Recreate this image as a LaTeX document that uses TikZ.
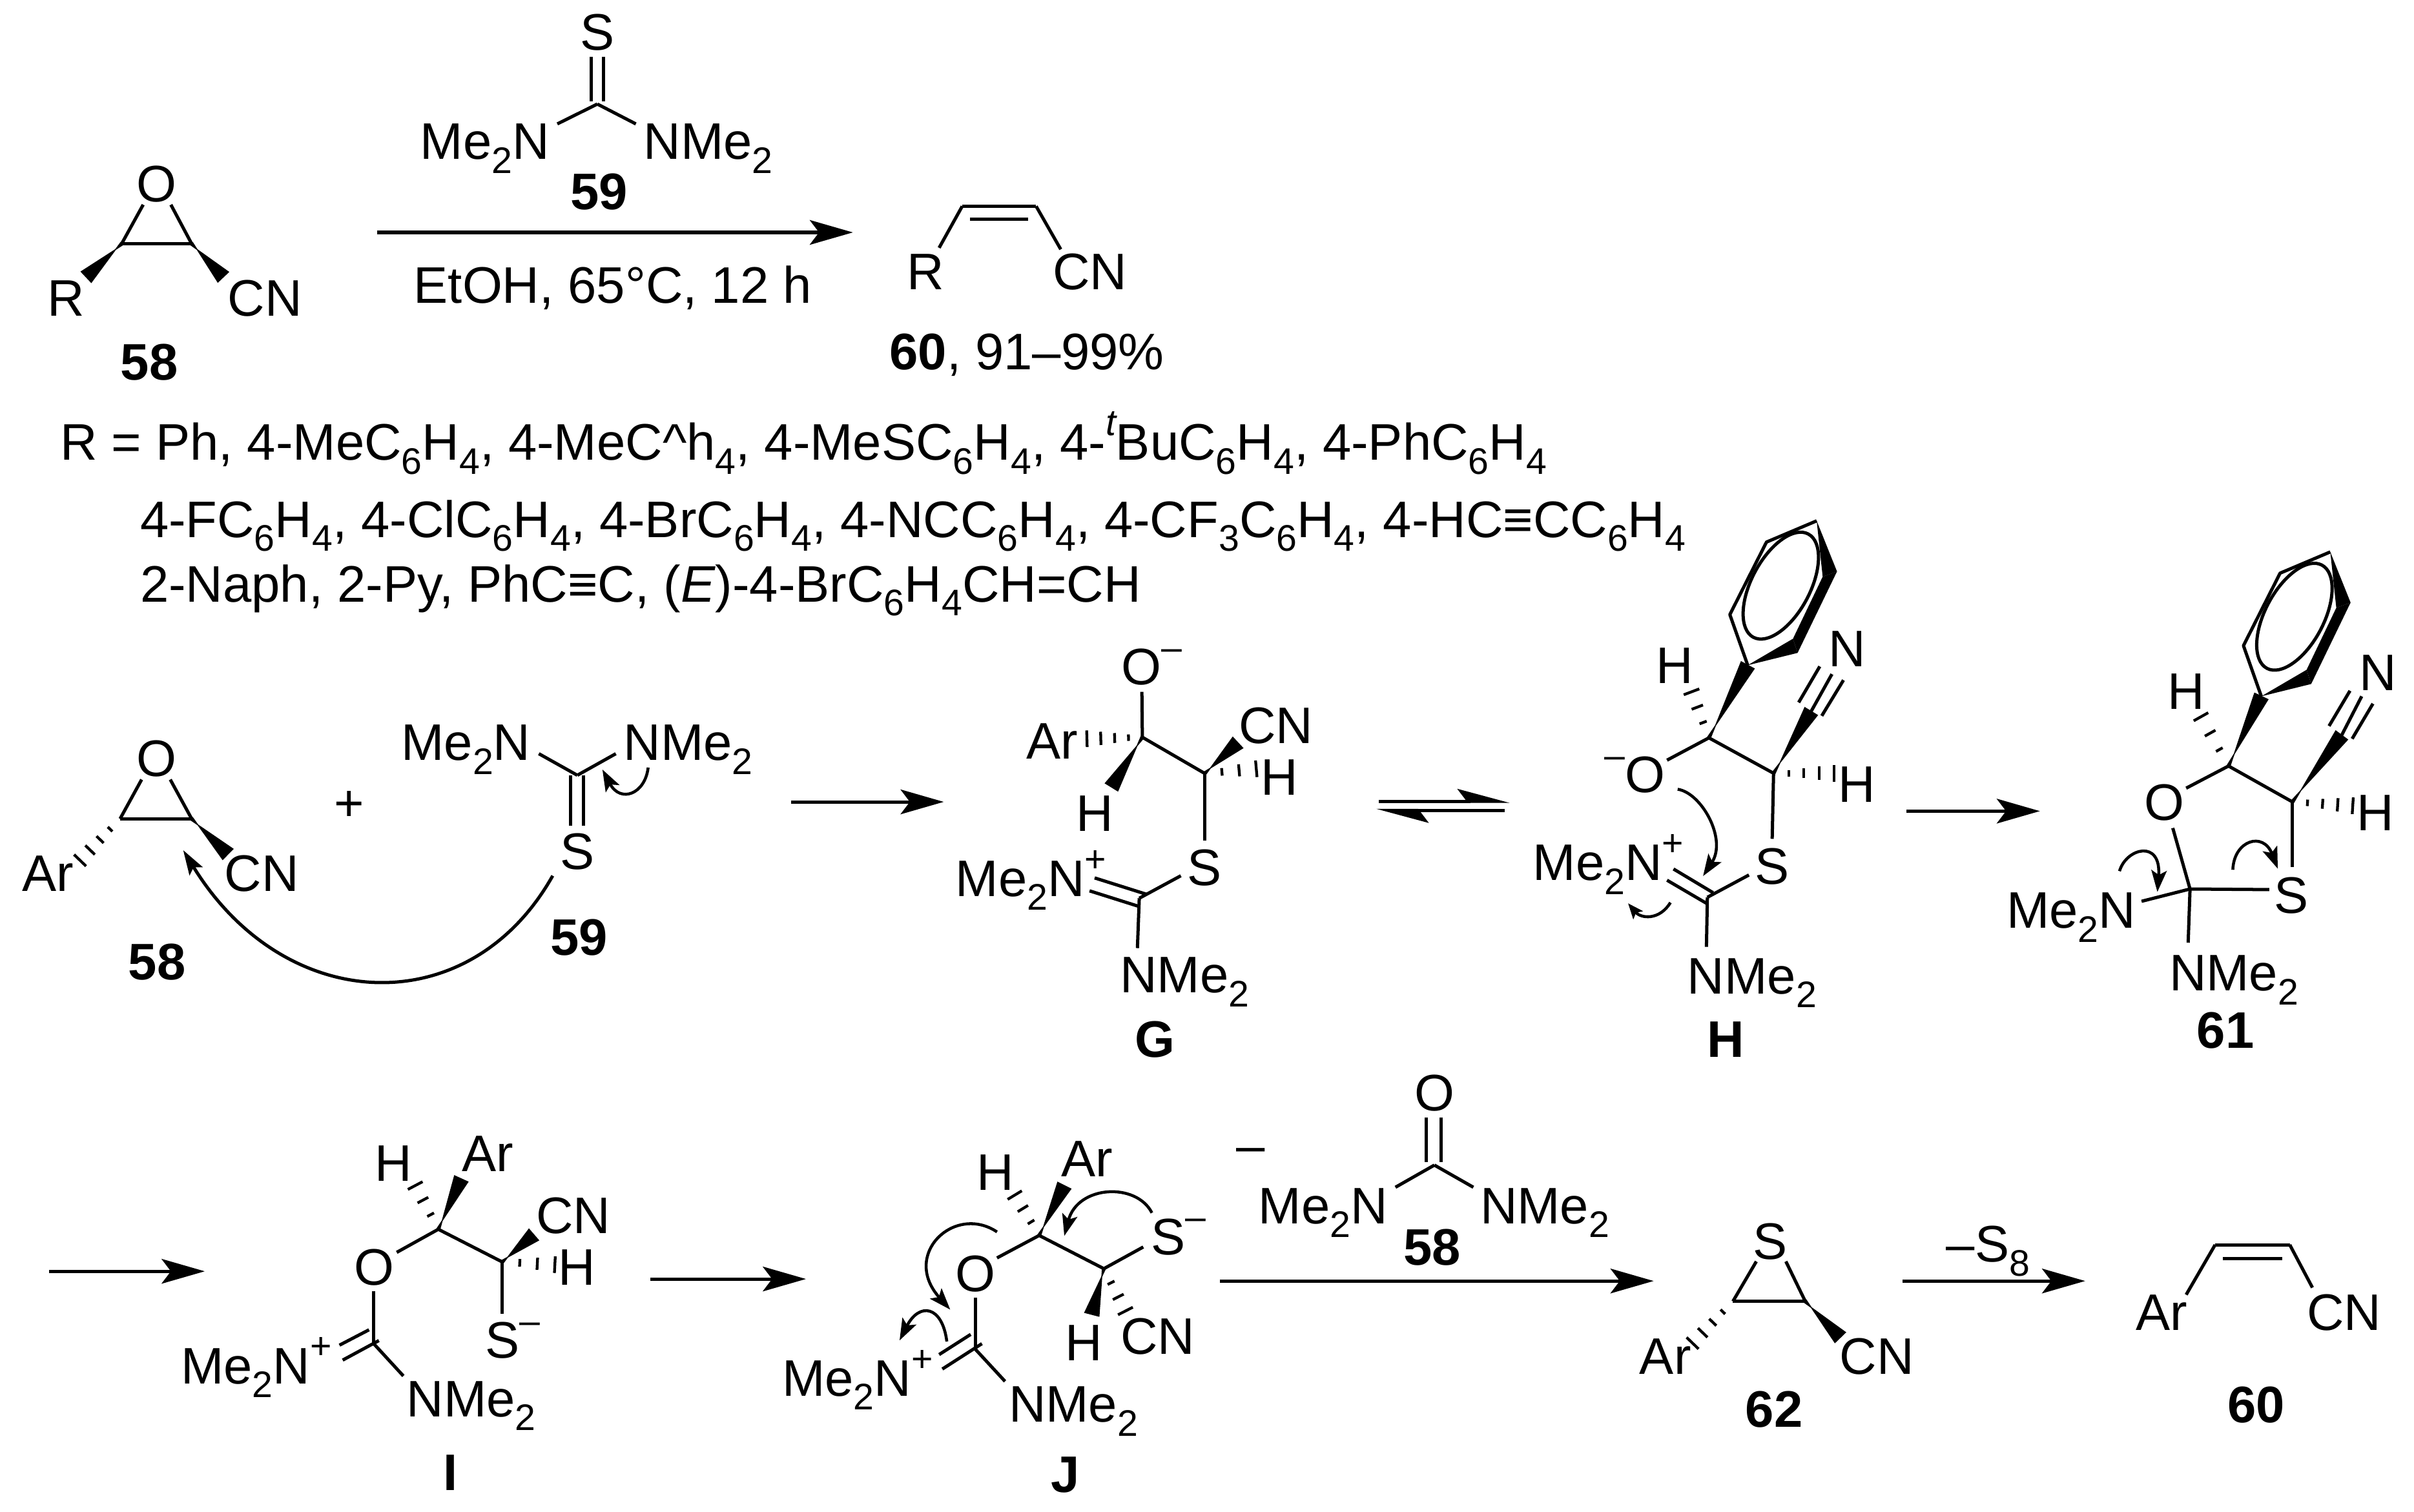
\documentclass[tikz,border=0pt]{standalone}
\usepackage{fontspec}
\setmainfont{Liberation Sans}
\usetikzlibrary{arrows.meta,calc}

\newcommand{\dn}[1]{\raisebox{-0.27em}{\fontsize{12}{12}\selectfont #1}}
\newcommand{\upc}[1]{\raisebox{0.48em}{\fontsize{12}{12}\selectfont #1}}
\newcommand{\wedgebond}[2]{\filldraw[line width=0.3pt] ($(#1)!0.5pt!90:(#2)$) -- ($(#2)!2.4pt!90:(#1)$) -- ($(#2)!2.4pt!-90:(#1)$) -- ($(#1)!0.5pt!-90:(#2)$) -- cycle;}
\newcommand{\hashbond}[3]{
    \foreach \k in {1,...,#3} {
        \pgfmathsetmacro{\hpos}{\k/#3}
        \pgfmathsetmacro{\hwid}{2.2*\k/#3+0.5}
        \draw[line width=0.9pt] ($($(#1)!\hpos!(#2)$)!\hwid pt!90:(#1)$) -- ($($(#1)!\hpos!(#2)$)!\hwid pt!-90:(#1)$);
    }
}
\newcommand{\benzring}{
    \coordinate (ph1) at (1135.2,432.2);
    \coordinate (ph2) at (1123.6,399.3);
    \coordinate (ph3) at (1147.4,352.2);
    \coordinate (ph4) at (1180,338.4);
    \coordinate (ph5) at (1193.2,371.3);
    \coordinate (ph6) at (1164.6,415);
    \coordinate (ph7) at (1167.6,424.2);
    \coordinate (ph8) at (1183.9,374.7);
    \coordinate (phc) at (1156.7,380.5);
    \draw[line join=round] (ph1) -- (ph2) -- (ph3) -- (ph4);
    \fill (ph1) -- (ph6) -- (ph7) -- cycle;
    \fill (ph6) -- (ph8) -- (ph5) -- (ph7) -- cycle;
    \fill (ph4) -- (ph8) -- (ph5) -- cycle;
    \draw[rotate around={62:(phc)}] (phc) ellipse [x radius=38,y radius=19];
}

\begin{document}
\begin{tikzpicture}[x=0.5pt,y=-0.5pt,line width=1.05pt,
    main node/.style={inner sep=0pt,text height=12pt,text depth=0pt,font=\fontsize{16.7}{19}\selectfont},
    bold node/.style={main node,font=\fontsize{16.7}{19}\selectfont\bfseries},
    line node/.style={main node,anchor=west},
    rxn/.style={-{Stealth[length=14pt,width=8pt,inset=3pt]}},
    half/.style={-{Stealth[length=15pt,width=8pt,inset=3pt,harpoon]}},
    curly/.style={-{Stealth[length=7pt,width=5pt,inset=1.5pt]},line width=0.95pt}]

    \useasboundingbox (0,0) rectangle (1568,982);

    % top reaction
    \node[main node] (o58) at (101.6,119) {O};
    \node[main node] (r58) at (43,193.5) {R};
    \node[main node] (cn58) at (172,193.5) {CN};
    \node[bold node] (lab58) at (97,235) {58};
    \coordinate (a58) at (79,158.4);
    \coordinate (b58) at (124.5,158.4);
    \coordinate (oa58) at (93,133);
    \coordinate (ob58) at (111,133);
    \coordinate (ra58) at (56,180);
    \coordinate (nb58) at (145,180);
    \path (oa58) edge (a58) (ob58) edge (b58) (a58) edge (b58);
    \wedgebond{a58}{ra58}
    \wedgebond{b58}{nb58}

    \node[main node] (s59) at (388,20.5) {S};
    \node[main node] (me59) at (315,91.6) {Me\dn{2}N};
    \node[main node] (nm59) at (460,91.6) {NMe\dn{2}};
    \node[bold node] (lab59) at (389,124) {59};
    \coordinate (c59) at (388,67.6);
    \coordinate (dl59) at (384,37);
    \coordinate (dr59) at (392,37);
    \coordinate (el59) at (384,66);
    \coordinate (er59) at (392,66);
    \coordinate (ma59) at (362,80.5);
    \coordinate (na59) at (413,80.5);
    \path (dl59) edge (el59) (dr59) edge (er59) (c59) edge (ma59) (c59) edge (na59);

    \coordinate (ar0a) at (245,151);
    \coordinate (ar0b) at (554,151);
    \draw[rxn] (ar0a) -- (ar0b);
    \node[main node] (cond) at (398,185) {EtOH, 65°C, 12 h};

    \coordinate (a60) at (625,134);
    \coordinate (b60) at (673,134);
    \coordinate (ia60) at (630,142.5);
    \coordinate (ib60) at (668,142.5);
    \coordinate (ra60) at (610,161);
    \coordinate (nb60) at (689,162);
    \path (a60) edge (b60) (ia60) edge (ib60) (a60) edge (ra60) (b60) edge (nb60);
    \node[main node] (r60) at (601,176) {R};
    \node[main node] (cn60) at (708,176) {CN};
    \node[main node] (lab60) at (667,228) {\textbf{60}, 91–99\%};

    % substituents
    \node[line node] (rline1) at (38,287) {R = Ph, 4-MeC\dn{6}H\dn{4}, 4-MeC\^{}h\dn{4}, 4-MeSC\dn{6}H\dn{4}, 4-\upc{\itshape t}BuC\dn{6}H\dn{4}, 4-PhC\dn{6}H\dn{4}};
    \node[line node] (rline2) at (90,337) {4-FC\dn{6}H\dn{4}, 4-ClC\dn{6}H\dn{4}, 4-BrC\dn{6}H\dn{4}, 4-NCC\dn{6}H\dn{4}, 4-CF\dn{3}C\dn{6}H\dn{4}, 4-HC≡CC\dn{6}H\dn{4}};
    \node[line node] (rline3) at (90,379) {2-Naph, 2-Py, PhC≡C, (\textit{E})-4-BrC\dn{6}H\dn{4}CH=CH};

    % second row, 58 + 59
    \node[main node] (o58b) at (101.6,492.5) {O};
    \node[main node] (ar58b) at (31,567) {Ar};
    \node[main node] (cn58b) at (170,567) {CN};
    \node[bold node] (lab58b) at (102,624.5) {58};
    \coordinate (a58b) at (78,532);
    \coordinate (b58b) at (124.5,532);
    \coordinate (oa58b) at (92,506.5);
    \coordinate (ob58b) at (110.6,506.5);
    \coordinate (ra58b) at (52,559);
    \coordinate (nb58b) at (148,555);
    \path (oa58b) edge (a58b) (ob58b) edge (b58b) (a58b) edge (b58b);
    \wedgebond{b58b}{nb58b}
    \hashbond{a58b}{ra58b}{4}
    \node[main node] (plus) at (227,521.5) {+};

    \node[main node] (me59b) at (302.6,482) {Me\dn{2}N};
    \node[main node] (nm59b) at (447,482) {NMe\dn{2}};
    \node[main node] (s59b) at (375,553) {S};
    \node[bold node] (lab59b) at (376,608.6) {59};
    \coordinate (c59b) at (375,503.7);
    \coordinate (ma59b) at (350,489.7);
    \coordinate (na59b) at (400,489.7);
    \coordinate (dl59b) at (370.4,503.7);
    \coordinate (dr59b) at (379,503.7);
    \coordinate (el59b) at (370.4,536.5);
    \coordinate (er59b) at (379,536.5);
    \path (c59b) edge (ma59b) (c59b) edge (na59b) (dl59b) edge (el59b) (dr59b) edge (er59b);
    \coordinate (big1) at (359,569);
    \coordinate (big2) at (119,552.4);
    \draw[curly,-{Stealth[length=8pt,width=5pt,inset=1.5pt]},line width=1.05pt] (big1) .. controls (305,665) and (185,660) .. (big2);
    \coordinate (sm1) at (421,498.7);
    \coordinate (sm2) at (391.3,500);
    \draw[curly] (sm1) .. controls (419,516) and (403,522) .. (sm2);

    \coordinate (ar1a) at (514,521);
    \coordinate (ar1b) at (613,521);
    \draw[rxn] (ar1a) -- (ar1b);

    % G
    \node[main node] (og) at (741.4,433) {O\rlap{\upc{–}}};
    \node[main node] (arg) at (683.6,481) {Ar};
    \node[main node] (hag) at (711,528) {H};
    \node[main node] (cng) at (828.7,471) {CN};
    \node[main node] (hbg) at (831,504.7) {H};
    \node[main node] (sg) at (782.5,563.2) {S};
    \node[main node] (meg) at (662.7,570.4) {Me\dn{2}N\rlap{\upc{+}}};
    \node[main node] (nmg) at (769.5,633) {NMe\dn{2}};
    \node[bold node] (labg) at (750.4,674.7) {G};
    \coordinate (c1g) at (742,479);
    \coordinate (c2g) at (782.5,502.5);
    \coordinate (c3g) at (740,583.6);
    \coordinate (ong) at (741.7,449.5);
    \coordinate (hag2) at (706,480);
    \coordinate (wa) at (722,511.4);
    \coordinate (wb) at (804,482.5);
    \coordinate (hbg2) at (816,499.5);
    \coordinate (sag) at (782.5,546.3);
    \coordinate (sbg) at (767,569);
    \coordinate (d1g) at (711,570.4);
    \coordinate (d2g) at (744.6,581);
    \coordinate (d3g) at (707.7,578.8);
    \coordinate (d4g) at (740,589);
    \coordinate (nag) at (738.8,616);
    \path (ong) edge (c1g) (c1g) edge (c2g) (c2g) edge (sag) (c3g) edge (sbg)
        (d1g) edge (d2g) (d3g) edge (d4g) (c3g) edge (nag);
    \wedgebond{c1g}{wa}
    \wedgebond{c2g}{wb}
    \hashbond{c1g}{hag2}{4}
    \hashbond{c2g}{hbg2}{3}

    \coordinate (eq1a) at (895.5,520.6);
    \coordinate (eq1b) at (980.6,520.6);
    \coordinate (eq2a) at (977.4,526.6);
    \coordinate (eq2b) at (894,526.6);
    \draw[half] (eq1a) -- (eq1b);
    \draw[half] (eq2a) -- (eq2b);

    % H
    \benzring
    \node[main node] (oh) at (1068.7,503) {\llap{\upc{–}}O};
    \node[main node] (hah) at (1087.8,431.8) {H};
    \node[main node] (nh) at (1199.8,421.2) {N};
    \node[main node] (hbh) at (1206,509.3) {H};
    \node[main node] (sh) at (1151.1,562.3) {S};
    \node[main node] (meh) at (1037.7,560) {Me\dn{2}N\rlap{\upc{+}}};
    \node[main node] (nmh) at (1138,633.6) {NMe\dn{2}};
    \node[bold node] (labh) at (1121,675) {H};
    \coordinate (c1h) at (1110,479.4);
    \coordinate (c2h) at (1152,502.4);
    \coordinate (c3h) at (1109,583);
    \coordinate (oah) at (1082.8,493.9);
    \coordinate (hah2) at (1098.7,449.5);
    \coordinate (wch) at (1176.4,462.2);
    \coordinate (t1h) at (1168.3,456.4);
    \coordinate (t2h) at (1182,433);
    \coordinate (t3h) at (1189.9,438);
    \coordinate (t4h) at (1183.3,465.1);
    \coordinate (t5h) at (1197.4,441.9);
    \coordinate (hbh2) at (1191.4,502.4);
    \coordinate (sah) at (1151.1,545);
    \coordinate (sbh) at (1136,568.5);
    \coordinate (d1h) at (1087,564.6);
    \coordinate (d2h) at (1112.7,580);
    \coordinate (d3h) at (1082.8,571.9);
    \coordinate (d4h) at (1108.4,586.9);
    \coordinate (nah) at (1108.4,615.2);
    \path (oah) edge (c1h) (c1h) edge (c2h) (c2h) edge (sah) (c3h) edge (sbh)
        (d1h) edge (d2h) (d3h) edge (d4h) (c3h) edge (nah)
        (t1h) edge (t2h) (wch) edge (t3h) (t4h) edge (t5h);
    \wedgebond{c1h}{ph1}
    \wedgebond{c2h}{wch}
    \hashbond{c1h}{hah2}{3}
    \hashbond{c2h}{hbh2}{4}
    \coordinate (ch1) at (1089.7,512.8);
    \coordinate (ch2) at (1106.2,569.2);
    \coordinate (ch3) at (1085,586.4);
    \coordinate (ch4) at (1057.5,586.9);
    \draw[curly] (ch1) .. controls (1105,515) and (1122,545) .. (ch2);
    \draw[curly,-{Stealth[length=5pt,width=4pt,inset=1pt]}] (ch3) .. controls (1078,598) and (1066,597) .. (ch4);

    \coordinate (ar2a) at (1238.4,527);
    \coordinate (ar2b) at (1325,527);
    \draw[rxn] (ar2a) -- (ar2b);

    % 61
    \begin{scope}[shift={(333.6,20.2)}]
        \benzring
    \end{scope}
    \node[main node] (o61) at (1405.9,521) {O};
    \node[main node] (ha61) at (1420,448.8) {H};
    \node[main node] (n61) at (1544.4,436.8) {N};
    \node[main node] (hb61) at (1543,527.5) {H};
    \node[main node] (s61) at (1488.3,581.2) {S};
    \node[main node] (me61) at (1345.3,591) {Me\dn{2}N};
    \node[main node] (nm61) at (1451,631.8) {NMe\dn{2}};
    \node[bold node] (lab61) at (1445.6,669) {61};
    \coordinate (c1b) at (1447.5,497.7);
    \coordinate (c2b) at (1489,521);
    \coordinate (c3b) at (1422.5,577.6);
    \coordinate (ipso) at (1468.8,452.4);
    \coordinate (oa61) at (1420,512.1);
    \coordinate (ob61) at (1411.3,538);
    \coordinate (sa61) at (1489,563.2);
    \coordinate (sb61) at (1474,578);
    \coordinate (ma61) at (1391,585.6);
    \coordinate (na61) at (1421.3,612.5);
    \coordinate (ha612) at (1429.6,465.7);
    \coordinate (wc61) at (1521,477.7);
    \coordinate (t1b) at (1512.8,471.7);
    \coordinate (t2b) at (1526.4,448.8);
    \coordinate (t3b) at (1534,452.4);
    \coordinate (t4b) at (1527.8,480);
    \coordinate (t5b) at (1541.3,457.2);
    \coordinate (hb612) at (1528.2,523.5);
    \path (oa61) edge (c1b) (c1b) edge (c2b) (c2b) edge (sa61) (c3b) edge (sb61)
        (c3b) edge (ob61) (c3b) edge (ma61) (c3b) edge (na61)
        (t1b) edge (t2b) (wc61) edge (t3b) (t4b) edge (t5b);
    \wedgebond{c1b}{ipso}
    \wedgebond{c2b}{wc61}
    \hashbond{c1b}{ha612}{3}
    \hashbond{c2b}{hb612}{4}
    \coordinate (cb1) at (1376.7,566);
    \coordinate (cb2) at (1401.3,579.5);
    \coordinate (cb3) at (1450.3,565.1);
    \coordinate (cb4) at (1479.5,564.4);
    \draw[curly] (cb1) .. controls (1381,551) and (1404,545) .. (cb2);
    \draw[curly] (cb3) .. controls (1451,546) and (1470,540) .. (cb4);

    % third row
    \coordinate (ar3a) at (32,826);
    \coordinate (ar3b) at (133,826);
    \draw[rxn] (ar3a) -- (ar3b);

    % I
    \node[main node] (hi) at (255.6,755.3) {H};
    \node[main node] (ari) at (316.8,749) {Ar};
    \node[main node] (oi) at (243.1,823.1) {O};
    \node[main node] (cni) at (372.4,789.4) {CN};
    \node[main node] (hbi) at (374.5,823.1) {H};
    \node[main node] (si) at (326.2,870.4) {S\rlap{\upc{–}}};
    \node[main node] (mei) at (159.5,887) {Me\dn{2}N\rlap{\upc{+}}};
    \node[main node] (nmi) at (306,908.5) {NMe\dn{2}};
    \node[bold node] (labi) at (292.4,956.3) {I};
    \coordinate (c1i) at (284.7,798.7);
    \coordinate (c2i) at (326.2,819.9);
    \coordinate (c3i) at (242.7,873);
    \coordinate (wai) at (299.6,765.9);
    \coordinate (hai) at (269.7,770.3);
    \coordinate (oai) at (257.7,813.7);
    \coordinate (wbi) at (346.7,802.2);
    \coordinate (hbi2) at (360.4,821.7);
    \coordinate (sai) at (326.2,853.6);
    \coordinate (obi) at (242.7,839);
    \coordinate (d1i) at (220.5,874);
    \coordinate (d2i) at (239.7,864);
    \coordinate (d3i) at (222.6,883.7);
    \coordinate (d4i) at (246.1,871);
    \coordinate (nai) at (262,894);
    \path (oai) edge (c1i) (c1i) edge (c2i) (c2i) edge (sai) (c3i) edge (obi)
        (d1i) edge (d2i) (d3i) edge (d4i) (c3i) edge (nai);
    \wedgebond{c1i}{wai}
    \wedgebond{c2i}{wbi}
    \hashbond{c1i}{hai}{3}
    \hashbond{c2i}{hbi2}{3}

    \coordinate (ar4a) at (422.5,831);
    \coordinate (ar4b) at (523.5,831);
    \draw[rxn] (ar4a) -- (ar4b);

    % J
    \node[main node] (hj) at (646.3,761.1) {H};
    \node[main node] (arj) at (706.2,752.6) {Ar};
    \node[main node] (oj) at (633.5,827) {O};
    \node[main node] (sj) at (758.9,803.1) {S\rlap{\upc{–}}};
    \node[main node] (hbj) at (704.1,872.2) {H};
    \node[main node] (cnj) at (752,867.7) {CN};
    \node[main node] (mej) at (550,895) {Me\dn{2}N\rlap{\upc{+}}};
    \node[main node] (nmj) at (697.2,912) {NMe\dn{2}};
    \node[bold node] (labj) at (692.1,957.7) {J};
    \coordinate (c1j) at (675,802.7);
    \coordinate (c2j) at (717,824.3);
    \coordinate (c3j) at (633.5,876.6);
    \coordinate (oaj) at (647.6,817.3);
    \coordinate (waj) at (691.3,770.3);
    \coordinate (haj) at (659.1,776.5);
    \coordinate (saj) at (742.6,810.2);
    \coordinate (wbj) at (709.2,854);
    \coordinate (hbj2) at (731,851.8);
    \coordinate (obj) at (633.5,843.3);
    \coordinate (d1j) at (610,880.1);
    \coordinate (d2j) at (630.5,867);
    \coordinate (d3j) at (612.1,889.5);
    \coordinate (d4j) at (637.8,873);
    \coordinate (naj) at (652.8,897.5);
    \path (oaj) edge (c1j) (c1j) edge (c2j) (c2j) edge (saj) (c3j) edge (obj)
        (d1j) edge (d2j) (d3j) edge (d4j) (c3j) edge (naj);
    \wedgebond{c1j}{waj}
    \wedgebond{c2j}{wbj}
    \hashbond{c1j}{haj}{3}
    \hashbond{c2j}{hbj2}{3}
    \coordinate (cj1) at (748.2,788);
    \coordinate (cj2) at (691.3,803);
    \coordinate (cj3) at (647.6,800.4);
    \coordinate (cj4) at (617.2,850.9);
    \coordinate (cj5) at (615,871.6);
    \coordinate (cj6) at (584.3,870.9);
    \draw[curly] (cj1) .. controls (738,768) and (700,770) .. (cj2);
    \draw[curly] (cj3) .. controls (620,782) and (585,815) .. (cj4);
    \draw[curly] (cj5) .. controls (612,848) and (597,846) .. (cj6);

    % urea
    \node[main node] (minus) at (812.5,743.7) {–};
    \node[main node] (ou) at (931.7,709.8) {O};
    \node[main node] (meu) at (859.4,783) {Me\dn{2}N};
    \node[main node] (nmu) at (1003.4,783) {NMe\dn{2}};
    \node[bold node] (labu) at (930.2,809.8) {58};
    \coordinate (cu) at (931.7,757);
    \coordinate (dlu) at (926.6,725.9);
    \coordinate (dru) at (936.2,725.9);
    \coordinate (elu) at (926.6,755.2);
    \coordinate (eru) at (936.2,755.2);
    \coordinate (mau) at (906.4,771.4);
    \coordinate (nau) at (957,771.4);
    \path (dlu) edge (elu) (dru) edge (eru) (cu) edge (mau) (cu) edge (nau);

    \coordinate (ar5a) at (792.3,832.3);
    \coordinate (ar5b) at (1074.1,832.3);
    \draw[rxn] (ar5a) -- (ar5b);

    % 62
    \node[main node] (s62) at (1149.9,806) {S};
    \node[main node] (ar62) at (1081.7,881) {Ar};
    \node[main node] (cn62) at (1219,881) {CN};
    \node[bold node] (lab62) at (1152.4,915.3) {62};
    \coordinate (a62) at (1125.6,845.5);
    \coordinate (b62) at (1172.6,845.5);
    \coordinate (sa62) at (1140.8,819.6);
    \coordinate (sb62) at (1160,819.6);
    \coordinate (wb62) at (1195.3,869);
    \coordinate (ha62) at (1099.4,872.7);
    \path (sa62) edge (a62) (sb62) edge (b62) (a62) edge (b62);
    \wedgebond{b62}{wb62}
    \hashbond{a62}{ha62}{4}

    \coordinate (ar6a) at (1235.7,832.3);
    \coordinate (ar6b) at (1354.4,832.3);
    \draw[rxn] (ar6a) -- (ar6b);
    \node[main node] (s8) at (1291.3,808) {–S\dn{8}};

    % final alkene
    \coordinate (a60b) at (1438.8,808.8);
    \coordinate (b60b) at (1487.3,808.8);
    \coordinate (ia60b) at (1443.8,817.7);
    \coordinate (ib60b) at (1482.2,817.7);
    \coordinate (ra60b) at (1420,841.2);
    \coordinate (nb60b) at (1502,836.6);
    \path (a60b) edge (b60b) (ia60b) edge (ib60b) (a60b) edge (ra60b) (b60b) edge (nb60b);
    \node[main node] (ar60b) at (1404,852.4) {Ar};
    \node[main node] (cn60b) at (1522.6,852.4) {CN};
    \node[bold node] (lab60b) at (1465.6,912.5) {60};
\end{tikzpicture}
\end{document}
